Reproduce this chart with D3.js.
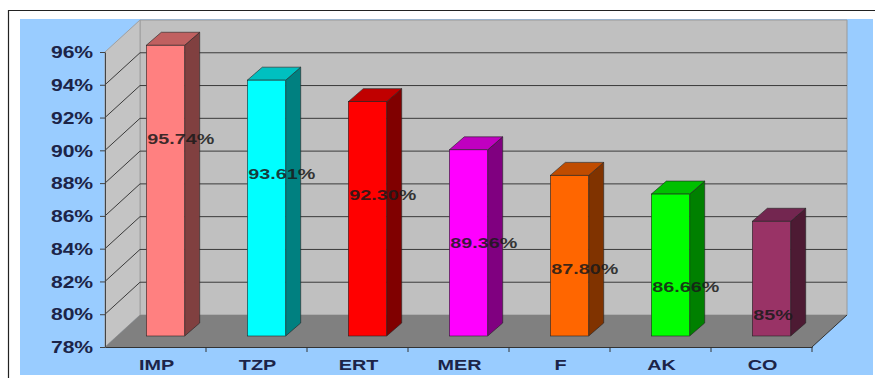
<!DOCTYPE html>
<html>
<head>
<meta charset="utf-8">
<script src="https://cdn.jsdelivr.net/npm/d3@7"></script>
<style>
  body { margin: 0; background: #fff; }
  svg { display: block; }
  text { font-family: Arial, "Liberation Sans", sans-serif; font-weight: bold; }
</style>
</head>
<body>
<svg id="chart"></svg>
<script>
const categories = ['IMP', 'TZP', 'ERT', 'MER', 'F', 'AK', 'CO'];
const values = [95.74, 93.61, 92.30, 89.36, 87.80, 86.66, 85];
const valueLabels = ['95.74%', '93.61%', '92.30%', '89.36%', '87.80%', '86.66%', '85%'];
const yTicks = [78, 80, 82, 84, 86, 88, 90, 92, 94, 96];
const frontColors = ['#ff8080', '#00ffff', '#ff0000', '#ff00ff', '#ff6600', '#00ff00', '#993366'];
const sideColors = ['#804040', '#008080', '#800000', '#800080', '#803300', '#008000', '#4d1a33'];
const topColors = ['#c06060', '#00c0c0', '#c00000', '#c000c0', '#c04c00', '#00c000', '#732650'];

const chartW = 875;
const chartH = 378;
const plotLeft = 105;
const plotRight = 812;
const plotBottom = 347;
const plotTop = 52;
// 3d depth of the plot box, and of each bar
const depthX = 35, depthY = -32;
const barOffX = 12, barOffY = -11;
const barDX = 15, barDY = -13;
const textScale = 'scale(1.32,1)';

const svg = d3.select('#chart')
  .attr('width', chartW)
  .attr('height', chartH);

// outer frame and blue chart area
svg.append('path')
  .attr('d', `M8.5,${chartH} V10.5 H${chartW}`)
  .attr('fill', 'none')
  .attr('stroke', '#222')
  .attr('stroke-width', 1.2);
svg.append('rect')
  .attr('x', 20).attr('y', 19)
  .attr('width', 853).attr('height', 356)
  .attr('fill', '#99ccff');

const x = d3.scaleBand()
  .domain(categories)
  .range([plotLeft, plotRight]);

const y = d3.scaleLinear()
  .domain([78, 96])
  .range([plotBottom, plotTop]);

const pts = arr => arr.map(p => p.join(',')).join(' ');

// walls and floor
const g = svg.append('g');
g.append('polygon')
  .attr('points', pts([[plotLeft + depthX, y(96) + depthY], [plotRight + depthX, y(96) + depthY],
    [plotRight + depthX, y(78) + depthY], [plotLeft + depthX, y(78) + depthY]]))
  .attr('fill', '#c0c0c0')
  .attr('stroke', '#9a9a9a');
g.append('polygon')
  .attr('points', pts([[plotLeft, y(78)], [plotLeft, y(96)], [plotLeft + depthX, y(96) + depthY],
    [plotLeft + depthX, y(78) + depthY]]))
  .attr('fill', '#c4c4c4')
  .attr('stroke', '#a0a0a0');
g.append('polygon')
  .attr('points', pts([[plotLeft, y(78)], [plotRight, y(78)], [plotRight + depthX, y(78) + depthY],
    [plotLeft + depthX, y(78) + depthY]]))
  .attr('fill', '#808080');
g.append('line')
  .attr('x1', plotRight).attr('y1', y(78))
  .attr('x2', plotRight + depthX).attr('y2', y(78) + depthY)
  .attr('stroke', '#333');

// gridlines on the side and back wall
const grid = yTicks.filter(v => v > 78 && v < 96);
g.selectAll('.grid')
  .data(grid)
  .enter()
  .append('path')
  .attr('class', 'grid')
  .attr('d', v => `M${plotLeft},${y(v)} L${plotLeft + depthX},${y(v) + depthY} H${plotRight + depthX}`)
  .attr('fill', 'none')
  .attr('stroke', '#3a3a3a')
  .attr('stroke-width', 1);

// y axis
const yAxis = svg.append('g')
  .attr('transform', `translate(${plotLeft},0)`)
  .call(d3.axisLeft(y).tickValues(yTicks).tickSize(5).tickSizeOuter(0).tickFormat(d => d + '%'));
yAxis.select('.domain').attr('stroke', '#444');
yAxis.selectAll('line').attr('stroke', '#444');
yAxis.selectAll('text')
  .attr('x', -9)
  .attr('dy', '0.36em')
  .attr('transform', textScale)
  .attr('font-size', 16)
  .attr('fill', '#1c2448');

// x axis along the front edge of the floor
const xAxis = svg.append('g')
  .attr('transform', `translate(0,${plotBottom})`)
  .call(d3.axisBottom(x).tickSize(0).tickSizeOuter(0).tickPadding(12));
xAxis.select('.domain').attr('stroke', '#333');
xAxis.selectAll('.tick text')
  .attr('font-size', 15)
  .attr('fill', '#1c2448')
  .attr('transform', textScale)
  .attr('x', 0);
xAxis.selectAll('.tick').attr('transform', d => `translate(${x(d) + x.bandwidth() / 2 + 1},0)`);
xAxis.selectAll('.bound')
  .data(categories)
  .enter()
  .append('line')
  .attr('class', 'bound')
  .attr('x1', d => x(d) + x.bandwidth())
  .attr('x2', d => x(d) + x.bandwidth())
  .attr('y1', 0).attr('y2', 5)
  .attr('stroke', '#333');

// bars
const barW = x.bandwidth() * 0.38;
const bars = svg.selectAll('.bar')
  .data(categories.map((c, i) => ({ c, v: values[i], i })))
  .enter()
  .append('g')
  .attr('class', 'bar');

const bx0 = d => x(d.c) + x.bandwidth() / 2 - barW / 2 + barOffX - 2;
const bx1 = d => bx0(d) + barW;
const byT = d => y(d.v) + barOffY;
const byB = () => y(78) + barOffY;

bars.append('polygon')
  .attr('points', d => pts([[bx1(d), byT(d)], [bx1(d) + barDX, byT(d) + barDY],
    [bx1(d) + barDX, byB() + barDY], [bx1(d), byB()]]))
  .attr('fill', d => sideColors[d.i])
  .attr('stroke', '#222').attr('stroke-width', 0.6);
bars.append('polygon')
  .attr('points', d => pts([[bx0(d), byT(d)], [bx1(d), byT(d)],
    [bx1(d) + barDX, byT(d) + barDY], [bx0(d) + barDX, byT(d) + barDY]]))
  .attr('fill', d => topColors[d.i])
  .attr('stroke', '#222').attr('stroke-width', 0.6);
bars.append('rect')
  .attr('x', bx0)
  .attr('y', byT)
  .attr('width', barW)
  .attr('height', d => byB() - byT(d))
  .attr('fill', d => frontColors[d.i])
  .attr('stroke', '#222').attr('stroke-width', 0.6);

// value labels
bars.append('text')
  .attr('transform', d => `translate(${bx0(d) + 1},${y(d.v - 5)}) ${textScale}`)
  .attr('dy', '0.36em')
  .attr('font-size', 15)
  .attr('fill', '#1a1a1a')
  .attr('fill-opacity', 0.85)
  .text(d => valueLabels[d.i]);
</script>
</body>
</html>
